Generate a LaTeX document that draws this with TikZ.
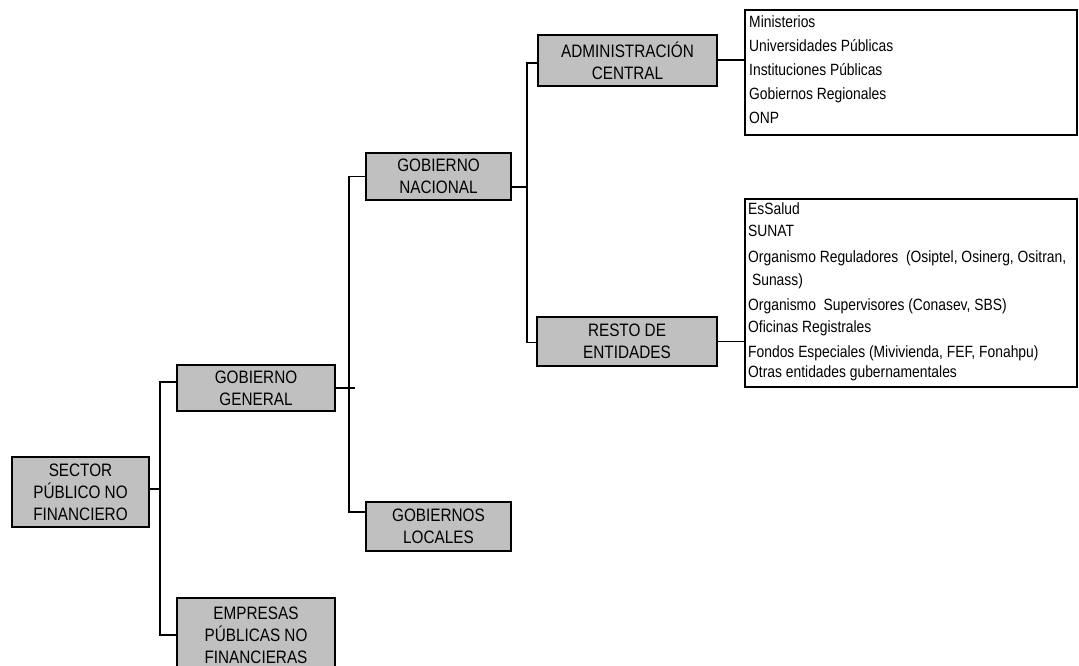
\documentclass[tikz,border=0pt]{standalone}
\usepackage{fontspec}
\setmainfont[FakeStretch=0.85]{Liberation Sans}
\definecolor{boxgray}{HTML}{C0C0C0}
\tikzset{
  orgbox/.style={draw=black, line width=2.5pt, fill=boxgray, align=center, inner sep=0pt,
    font=\fontsize{18}{22}\selectfont},
  listbox/.style={draw=black, line width=2.2pt, fill=white, inner sep=0pt},
  listtext/.style={anchor=base west, inner sep=0pt, font=\fontsize{16.3}{20}\selectfont},
  conn/.style={draw=black, line width=1.8pt},
}
\begin{document}
\begin{tikzpicture}[x=1pt,y=-1pt]
\useasboundingbox (0,0) rectangle (1079,666);
% boxes
\node[orgbox, minimum width=137pt, minimum height=70pt] (sector) at (80.5,492) {SECTOR\\PÚBLICO NO\\FINANCIERO};
\node[orgbox, minimum width=158pt, minimum height=46pt] (general) at (256,388) {GOBIERNO\\GENERAL};
\node[orgbox, minimum width=158pt, minimum height=74pt] (empresas) at (256,635) {EMPRESAS\\PÚBLICAS NO\\FINANCIERAS};
\node[orgbox, minimum width=145pt, minimum height=47pt] (nacional) at (438.5,176.5) {GOBIERNO\\NACIONAL};
\node[orgbox, minimum width=145pt, minimum height=49pt] (locales) at (438.5,526.5) {GOBIERNOS\\LOCALES};
\node[orgbox, minimum width=179pt, minimum height=51pt] (admin) at (627.5,60.5) {ADMINISTRACIÓN\\CENTRAL};
\node[orgbox, minimum width=180pt, minimum height=49pt] (resto) at (627,341.5) {RESTO DE\\ENTIDADES};
% list boxes
\node[listbox, minimum width=332pt, minimum height=125pt] (list1) at (911,72.5) {};
\node[listbox, minimum width=332pt, minimum height=188pt] (list2) at (911,293) {};
% list texts
\node[listtext] (l1a) at (749,28) {Ministerios};
\node[listtext] (l1b) at (749,52) {Universidades Públicas};
\node[listtext] (l1c) at (749,76) {Instituciones Públicas};
\node[listtext] (l1d) at (749,100) {Gobiernos Regionales};
\node[listtext] (l1e) at (749,124) {ONP};
\node[listtext] (l2a) at (748,214) {EsSalud};
\node[listtext] (l2b) at (748,236) {SUNAT};
\node[listtext] (l2c) at (748,262) {Organismo Reguladores\ \ (Osiptel, Osinerg, Ositran,};
\node[listtext] (l2d) at (748,285) {\ Sunass)};
\node[listtext] (l2e) at (748,310) {Organismo\ \ Supervisores (Conasev, SBS)};
\node[listtext] (l2f) at (748,332) {Oficinas Registrales};
\node[listtext] (l2g) at (748,357) {Fondos Especiales (Mivivienda, FEF, Fonahpu)};
\node[listtext] (l2h) at (748,377) {Otras entidades gubernamentales};
% connectors level 1
\coordinate (s1) at (160,489);
\draw[conn] ([yshift=3pt]sector.east) -- (s1);
\draw[conn] ([yshift=6pt]general.west) -| (s1) |- (empresas.west);
% level 2
\coordinate (s2) at (349,388);
\draw[conn] (general.east) -- ++(19,0);
\draw[conn] (nacional.west) -| (s2) |- ([yshift=14.5pt]locales.west);
% level 3
\coordinate (s3) at (527,187);
\draw[conn] ([yshift=-10.5pt]nacional.east) -- (s3);
\draw[conn] ([yshift=-2.5pt]admin.west) -| (s3) |- ([yshift=-1pt]resto.west);
% to lists
\draw[conn] ([yshift=0.5pt]admin.east) -- ([yshift=0.5pt]admin.east -| list1.west);
\draw[conn] (resto.east) -- (resto.east -| list2.west);
\end{tikzpicture}
\end{document}
